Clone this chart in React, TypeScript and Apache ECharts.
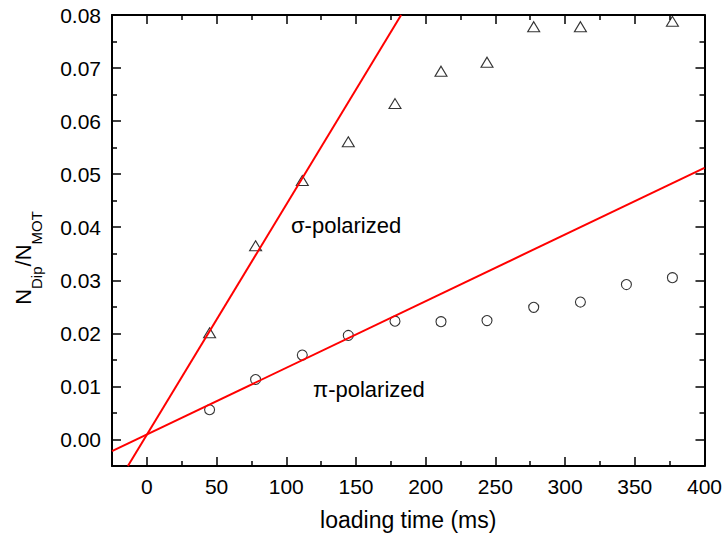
import React, { useEffect, useRef } from "react";
import * as echarts from "echarts";

// Loading time (ms) for each measurement
const sigmaTimes = [45, 78, 111.5, 144.5, 178, 211, 244, 277.5, 311, 377];
const piTimes = [45, 78, 111.5, 144.5, 178, 211, 244, 277.5, 311, 344, 377];

// N_Dip / N_MOT ratios
const sigmaRatio = [0.0201, 0.0365, 0.0488, 0.0561, 0.0633, 0.0694, 0.0711, 0.0778, 0.0778, 0.0788];
const piRatio = [0.0056, 0.0113, 0.0159, 0.0196, 0.0223, 0.0222, 0.0224, 0.0249, 0.0259, 0.0292, 0.0305];

// Initial-slope fit lines (end points)
const sigmaFitX = [-13.6, 182.4];
const sigmaFitY = [-0.005, 0.08];
const piFitX = [-25, 400];
const piFitY = [-0.0022, 0.0512];

const FONT = "'Liberation Sans', Arial, sans-serif";

const zip = (xs: number[], ys: number[]) => xs.map((x, i) => [x, ys[i]]);

export default function App() {
  const ref = useRef<HTMLDivElement>(null);

  useEffect(() => {
    if (!ref.current) return;
    const chart = echarts.init(ref.current, null, { renderer: "svg" });

    const axisLine = { show: true, onZero: false, lineStyle: { color: "#000", width: 2 } };
    const axisTick = { show: true, inside: true, length: 9, lineStyle: { color: "#000", width: 1.5 } };
    const minorTick = { show: true, splitNumber: 2, length: 5, lineStyle: { color: "#000", width: 1.5 } };
    const noSplit = { show: false };

    const xBase = { type: "value" as const, min: -25, max: 400, splitNumber: 8 };
    const yBase = { type: "value" as const, min: -0.005, max: 0.08, splitNumber: 8 };

    chart.setOption({
      animation: false,
      backgroundColor: "#fff",
      grid: { left: 112, right: 17.5, top: 15, bottom: 79, containLabel: false },
      xAxis: [
        {
          ...xBase,
          position: "bottom",
          axisLine,
          axisTick,
          minorTick,
          splitLine: noSplit,
          minorSplitLine: noSplit,
          axisLabel: {
            show: true,
            showMinLabel: false,
            margin: 10,
            color: "#000",
            fontSize: 21,
            fontFamily: FONT,
            formatter: (v: number) => (Math.abs(v % 50) < 1e-9 ? String(v) : ""),
          },
          name: "loading time (ms)",
          nameLocation: "middle",
          nameGap: 42,
          nameTextStyle: { color: "#000", fontSize: 23, fontFamily: FONT },
        },
        {
          ...xBase,
          position: "top",
          axisLine,
          axisTick,
          minorTick,
          splitLine: noSplit,
          minorSplitLine: noSplit,
          axisLabel: { show: false },
        },
      ],
      yAxis: [
        {
          ...yBase,
          position: "left",
          axisLine,
          axisTick,
          minorTick,
          splitLine: noSplit,
          minorSplitLine: noSplit,
          axisLabel: {
            show: true,
            showMinLabel: false,
            margin: 11,
            color: "#000",
            fontSize: 21,
            fontFamily: FONT,
            formatter: (v: number) => v.toFixed(2),
          },
        },
        {
          ...yBase,
          position: "right",
          axisLine,
          axisTick,
          minorTick,
          splitLine: noSplit,
          minorSplitLine: noSplit,
          axisLabel: { show: false },
        },
      ],
      graphic: [
        {
          type: "text",
          x: 23,
          y: 258,
          rotation: Math.PI / 2,
          style: {
            text: "{n|N}{s|Dip}{n|/N}{s|MOT}",
            align: "center",
            verticalAlign: "middle",
            fill: "#000",
            rich: {
              n: { fontSize: 22, fontFamily: FONT, lineHeight: 42, fill: "#000" },
              s: { fontSize: 15, fontFamily: FONT, lineHeight: 15, verticalAlign: "bottom", fill: "#000" },
            },
          },
        },
        {
          type: "text",
          x: 291,
          y: 225,
          style: {
            text: "σ-polarized",
            fontSize: 22,
            fontFamily: FONT,
            fill: "#000",
            align: "left",
            verticalAlign: "middle",
          },
        },
        {
          type: "text",
          x: 313,
          y: 389,
          style: {
            text: "π-polarized",
            fontSize: 22,
            fontFamily: FONT,
            fill: "#000",
            align: "left",
            verticalAlign: "middle",
          },
        },
      ],
      series: [
        {
          name: "σ-polarized",
          type: "scatter",
          xAxisIndex: 0,
          yAxisIndex: 0,
          symbol: "triangle",
          symbolSize: [12, 10],
          itemStyle: { color: "rgba(0,0,0,0)", borderColor: "#000", borderWidth: 1.1 },
          data: zip(sigmaTimes, sigmaRatio),
          z: 2,
        },
        {
          name: "π-polarized",
          type: "scatter",
          xAxisIndex: 0,
          yAxisIndex: 0,
          symbol: "circle",
          symbolSize: 10,
          itemStyle: { color: "rgba(0,0,0,0)", borderColor: "#000", borderWidth: 1.1 },
          data: zip(piTimes, piRatio),
          z: 2,
        },
        {
          name: "σ fit",
          type: "line",
          xAxisIndex: 0,
          yAxisIndex: 0,
          symbol: "none",
          clip: true,
          lineStyle: { color: "#ff0000", width: 2 },
          data: zip(sigmaFitX, sigmaFitY),
          z: 3,
        },
        {
          name: "π fit",
          type: "line",
          xAxisIndex: 0,
          yAxisIndex: 0,
          symbol: "none",
          clip: true,
          lineStyle: { color: "#ff0000", width: 2 },
          data: zip(piFitX, piFitY),
          z: 3,
        },
      ],
    });

    return () => chart.dispose();
  }, []);

  return (
    <div
      ref={ref}
      style={{ position: "fixed", left: 0, top: 0, width: 725, height: 545, background: "#fff" }}
    />
  );
}
